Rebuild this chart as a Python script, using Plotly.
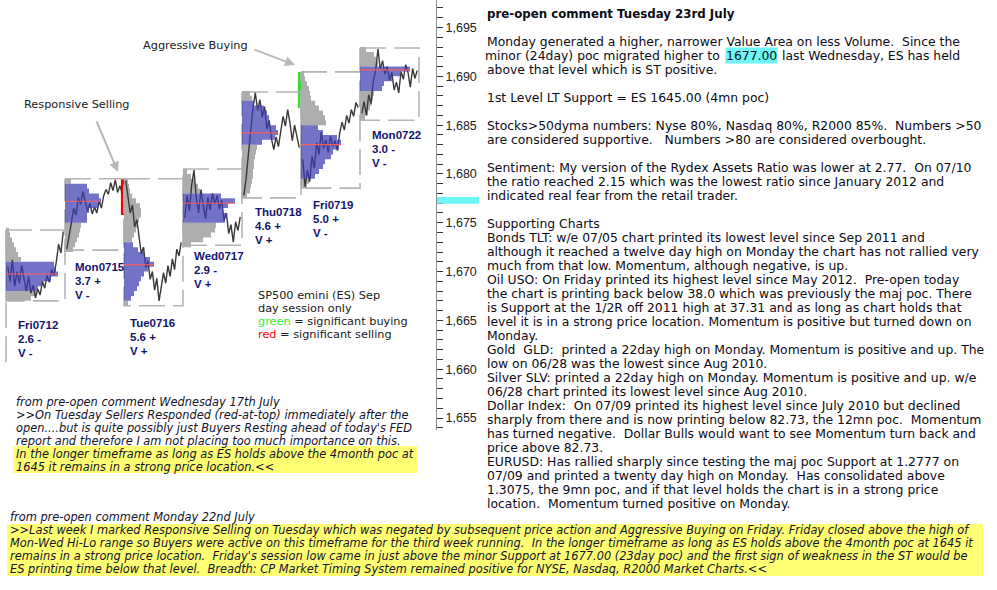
import numpy as np
import plotly.graph_objects as go

# ---------------- DATA ----------------
days = ["Fri0712", "Mon0715", "Tue0716", "Wed0717", "Thu0718", "Fri0719", "Mon0722"]
range_ext = ["2.6 -", "3.7 +", "5.6 +", "2.9 -", "4.6 +", "5.0 +", "3.0 -"]
volume_sign = ["V -", "V -", "V +", "V +", "V +", "V -", "V -"]
day_high = [1674.25, 1679.5, 1679.5, 1680.5, 1688.4, 1690.45, 1692.9]
day_low = [1667.0, 1672.2, 1666.5, 1672.7, 1677.55, 1678.55, 1685.5]
va_low = [1668.0, 1675.0, 1667.0, 1675.0, 1683.0, 1679.5, 1688.5]
va_high = [1671.0, 1679.0, 1673.0, 1678.0, 1687.5, 1685.0, 1691.0]
poc = [1669.75, 1677.2, 1670.7, 1677.0, 1684.2, 1683.0, 1690.65]
prev_session_low, prev_session_high = 1660.7, 1674.25

# market profile (half-point bins from prof_start upward), width in px-of-session units
prof_start = [1667.0, 1672.0, 1666.5, 1672.5, 1677.5, 1678.5, 1685.5]
prof_fri0712 = [25, 30, 32, 36, 45, 52, 50, 48, 15, 12, 10, 8, 6, 4, 3]
prof_mon0715 = [8, 10, 12, 14, 15, 16, 22, 22, 24, 33, 36, 34, 24, 22, 6]
prof_tue0716 = [4, 7, 10, 13, 15, 17, 20, 24, 30, 26, 20, 14, 9, 8, 10, 12, 13, 15, 17, 17, 16, 12, 8, 6, 5, 4]
prof_wed0717 = [8, 20, 28, 32, 33, 42, 44, 40, 45, 52, 38, 17, 15, 12, 8, 4]
prof_thu0718 = [5, 8, 9, 10, 11, 11, 12, 12, 13, 14, 15, 20, 33, 36, 34, 28, 27, 25, 22, 12, 10, 8]
prof_fri0719 = [6, 8, 14, 18, 22, 24, 30, 32, 38, 40, 36, 22, 17, 25, 24, 22, 18, 14, 10, 9, 8, 6, 4, 3]
prof_mon0722 = [5, 8, 10, 12, 13, 14, 22, 24, 32, 40, 50, 18, 16, 14, 6]
profiles = [prof_fri0712, prof_mon0715, prof_tue0716, prof_wed0717, prof_thu0718, prof_fri0719, prof_mon0722]

# intraday price paths
px_fri0712 = [1670.5, 1669.0, 1671.2, 1668.5, 1670.0, 1668.8, 1670.6, 1669.2, 1668.0, 1669.5, 1667.8, 1668.6, 1667.3,
              1668.2, 1667.6, 1669.0, 1668.3, 1669.6, 1668.9, 1670.2, 1669.6, 1671.0, 1672.8, 1671.9, 1674.1]
px_mon0715 = [1672.3, 1673.5, 1675.0, 1676.5, 1675.8, 1677.6, 1676.9, 1678.2, 1677.3, 1676.2, 1677.0, 1675.9, 1676.6,
              1676.0, 1677.2, 1676.5, 1677.8, 1678.4, 1677.9, 1679.1, 1678.3, 1679.4, 1678.1, 1678.8, 1678.0]
px_tue0716 = [1679.3, 1677.5, 1676.0, 1676.8, 1674.6, 1675.3, 1673.2, 1671.8, 1672.5, 1670.4, 1671.1, 1669.2, 1670.0,
              1668.1, 1669.3, 1667.0, 1668.4, 1669.9, 1668.8, 1670.6, 1669.5, 1671.3, 1670.2, 1672.3, 1671.6, 1673.0]
px_wed0717 = [1675.5, 1677.8, 1676.2, 1678.9, 1680.4, 1677.5, 1676.0, 1678.4, 1676.8, 1675.4, 1677.6, 1676.3, 1678.0,
              1676.9, 1677.8, 1676.4, 1677.3, 1675.2, 1676.0, 1673.9, 1674.8, 1673.0, 1675.1, 1674.2, 1675.6]
px_thu0718 = [1677.8, 1679.5, 1682.0, 1684.5, 1686.8, 1688.3, 1686.5, 1687.6, 1685.8, 1686.9, 1684.6, 1685.5, 1683.6,
              1682.5, 1683.8, 1682.8, 1684.6, 1685.9, 1684.9, 1686.6, 1685.2, 1683.4, 1685.0, 1684.0, 1682.7]
px_fri0719 = [1681.5, 1678.7, 1680.4, 1679.2, 1681.8, 1680.6, 1683.2, 1682.0, 1684.3, 1682.6, 1683.5, 1682.2, 1683.9,
              1682.8, 1683.4, 1682.4, 1684.2, 1685.3, 1684.5, 1686.0, 1685.2, 1686.6, 1685.9, 1687.3, 1686.8]
px_mon0722 = [1686.2, 1687.4, 1686.0, 1688.1, 1687.2, 1689.5, 1690.6, 1692.8, 1690.7, 1691.6, 1690.2, 1691.0, 1689.6,
              1690.4, 1688.6, 1689.4, 1688.3, 1690.5, 1689.7, 1691.2, 1690.4, 1688.9, 1690.8, 1689.8, 1690.6]
price_paths = [px_fri0712, px_mon0715, px_tue0716, px_wed0717, px_thu0718, px_fri0719, px_mon0722]

# significant activity markers
sig_day = [2, 5]
sig_low = [1675.8, 1686.75]
sig_high = [1679.5, 1690.45]
sig_color = ["#ff0000", "#33dd33"]

minor_poc_level = 1677.0

# ---------------- LAYOUT CONSTANTS ----------------
FIG_W, FIG_H = 997, 590
PLOT_W, PLOT_H = 436, 430
PX_PER_PT = 9.7625
REF_PRICE, REF_PX = 1695.0, 27.5
DAY_PX = 59.0
DAY0_PX = 6.0
BIN = 0.5
y_top = REF_PRICE + REF_PX / PX_PER_PT
y_bot = REF_PRICE - (PLOT_H - REF_PX) / PX_PER_PT
x_left = -DAY0_PX / DAY_PX
x_right = (PLOT_W - DAY0_PX) / DAY_PX

GRAY = "#adadad"
BLUE = "rgba(60,60,178,0.72)"
NAVY = "#14146e"
TXT = "#0c0c16"


def px_x(p):
    return p / FIG_W


def px_y(p):
    return 1 - p / FIG_H


def esc(s):
    s = s.replace("&", "&amp;").replace("<", "&lt;").replace(">", "&gt;")
    return s.replace("  ", " \u00a0")


def step_polys(base, levels, widths, flags, want):
    """Closed step outlines for contiguous runs of bins whose flag == want (None-separated)."""
    xs, ys = [], []
    run = []
    for lv, w, f in list(zip(levels, widths, flags)) + [(None, None, not want)]:
        if f == want and lv is not None:
            run.append((lv, w))
            continue
        if run:
            px_, py_ = [base], [run[0][0]]
            for l, ww in run:
                px_ += [base + ww / DAY_PX, base + ww / DAY_PX]
                py_ += [l, l + BIN]
            px_ += [base, base]
            py_ += [run[-1][0] + BIN, run[0][0]]
            if xs:
                xs.append(None)
                ys.append(None)
            xs += px_
            ys += py_
            run = []
    return xs, ys


fig = go.Figure()

# session boxes
fig.add_trace(go.Scatter(x=[0, 0], y=[prev_session_low, prev_session_high], mode="lines",
                         line=dict(color="#b4b4b4", width=1.6, dash="26px,8px"),
                         hoverinfo="skip", showlegend=False))
for i in range(len(days)):
    fig.add_trace(go.Scatter(
        x=[i, i + 1, i + 1, i, i],
        y=[day_high[i], day_high[i], day_low[i], day_low[i], day_high[i]],
        mode="lines", line=dict(color="#b4b4b4", width=1.6, dash="26px,8px"),
        hoverinfo="skip", showlegend=False))

# profile outside value area (gray)
va_polys = []
for i in range(len(days)):
    levels = [prof_start[i] + BIN * k for k in range(len(profiles[i]))]
    inside = [(lv >= va_low[i] - 1e-9) and (lv + BIN <= va_high[i] + 1e-9) for lv in levels]
    gx, gy = step_polys(i, levels, profiles[i], inside, False)
    va_polys.append(step_polys(i, levels, profiles[i], inside, True))
    fig.add_trace(go.Scatter(x=gx, y=gy, mode="lines", fill="toself", fillcolor=GRAY,
                             line=dict(width=0, color=GRAY), hoverinfo="skip", showlegend=False))

# price paths
for i, path in enumerate(price_paths):
    xs = i + np.linspace(0.03, 0.97, len(path))
    fig.add_trace(go.Scatter(x=xs, y=path, mode="lines",
                             line=dict(color="#383838", width=1.4),
                             hoverinfo="skip", showlegend=False))

# value area (blue) on top
for i, (bx, by) in enumerate(va_polys):
    fig.add_trace(go.Scatter(x=bx, y=by, mode="lines", fill="toself", fillcolor=BLUE,
                             line=dict(width=0, color=BLUE), hoverinfo="skip", showlegend=False))

# POC lines
for i in range(len(days)):
    fig.add_trace(go.Scatter(x=[i, i + max(profiles[i]) / DAY_PX], y=[poc[i], poc[i]], mode="lines",
                             line=dict(color="#ff5a5a", width=1.2),
                             hoverinfo="skip", showlegend=False))

# significant buying / selling bars
for d, lo, hi, c in zip(sig_day, sig_low, sig_high, sig_color):
    fig.add_trace(go.Bar(x=[d - 0.01], y=[hi - lo], base=[lo], width=0.085,
                         marker=dict(color=c, line=dict(width=0)),
                         hoverinfo="skip", showlegend=False))

annotations = []


def add_text(px, py, txt, size, family="DejaVu Sans", color=TXT, xanchor="left", bg=None):
    a = dict(xref="paper", yref="paper", x=px_x(px), y=px_y(py), text=txt, showarrow=False,
             xanchor=xanchor, yanchor="middle", align="left", borderpad=0,
             font=dict(family=family, size=size, color=color))
    if bg:
        a["bgcolor"] = bg
    annotations.append(a)


# day labels
label_dx = [11, 9, 5, 10, 12, 11, 11]
label_dy = [24, 17, 17, 11, 14, 17, 15]
for i in range(len(days)):
    for k, t in enumerate([days[i], range_ext[i], volume_sign[i]]):
        annotations.append(dict(
            xref="x", yref="y", x=i + label_dx[i] / DAY_PX, y=day_low[i], text="<b>" + t + "</b>",
            showarrow=False, xanchor="left", yanchor="middle", borderpad=0,
            yshift=-(label_dy[i] + 14 * k),
            font=dict(family="Liberation Sans, Arial", size=11.5, color=NAVY)))

# chart notes
add_text(142, 45, "Aggressive Buying", 11.3, color="#202020")
add_text(23, 104, "Responsive Selling", 11.3, color="#202020")
annotations.append(dict(xref="paper", yref="paper", x=px_x(118), y=px_y(172), ax=-22, ay=-52,
                        text="", showarrow=True, arrowhead=2, arrowsize=1, arrowwidth=2,
                        arrowcolor="#b8b8b8"))
annotations.append(dict(xref="paper", yref="paper", x=px_x(295), y=px_y(65), ax=-42, ay=-16,
                        text="", showarrow=True, arrowhead=2, arrowsize=1, arrowwidth=2,
                        arrowcolor="#b8b8b8"))
legend_lines = ["SP500 emini (ES) Sep", "day session only",
                "<span style='color:#33ee33'>green</span> = significant buying",
                "<span style='color:#ff0000'>red</span> = significant selling"]
for k, t in enumerate(legend_lines):
    add_text(257, 295 + 13 * k, t, 11.3, color="#202020")

# left italic comment
left_lines = ["from pre-open comment Wednesday 17th July",
              ">>On Tuesday Sellers Responded (red-at-top) immediately after the",
              "open....but is quite possibly just Buyers Resting ahead of today's FED",
              "report and therefore I am not placing too much importance on this.",
              "In the longer timeframe as long as ES holds above the 4month poc at",
              "1645 it remains in a strong price location.<<"]
for k, t in enumerate(left_lines):
    add_text(15, 401.5 + 13 * k, "<i>" + esc(t) + "</i>", 11.4, color="#14142a")

# bottom italic comment
bottom_lines = ["from pre-open comment Monday 22nd July",
                ">>Last week I marked Responsive Selling on Tuesday which was negated by subsequent price action and Aggressive Buying on Friday. Friday closed above the high of",
                "Mon-Wed Hi-Lo range so Buyers were active on this timeframe for the third week running.  In the longer timeframe as long as ES holds above the 4month poc at 1645 it",
                "remains in a strong price location.  Friday's session low came in just above the minor Support at 1677.00 (23day poc) and the first sign of weakness in the ST would be",
                "ES printing time below that level.  Breadth: CP Market Timing System remained positive for NYSE, Nasdaq, R2000 Market Charts.<<"]
for k, t in enumerate(bottom_lines):
    add_text(9, 517.3 + 12.85 * k, "<i>" + esc(t) + "</i>", 11.4, color="#14142a")

# right commentary
add_text(486, 14, "<b>pre-open comment Tuesday 23rd July</b>", 11.8)
right_lines = ["Monday generated a higher, narrower Value Area on less Volume.  Since the",
               None,
               "above that level which is ST positive.",
               "",
               "1st Level LT Support = ES 1645.00 (4mn poc)",
               "",
               "Stocks>50dyma numbers: Nyse 80%, Nasdaq 80%, R2000 85%.  Numbers >50",
               "are considered supportive.   Numbers >80 are considered overbought.",
               "",
               "Sentiment: My version of the Rydex Assets Ratio was lower at 2.77.  On 07/10",
               "the ratio reached 2.15 which was the lowest ratio since January 2012 and",
               "indicated real fear from the retail trader.",
               "",
               "Supporting Charts",
               "Bonds TLT: w/e 07/05 chart printed its lowest level since Sep 2011 and",
               "although it reached a twelve day high on Monday the chart has not rallied very",
               "much from that low. Momentum, although negative, is up.",
               "Oil USO: On Friday printed its highest level since May 2012.  Pre-open today",
               "the chart is printing back below 38.0 which was previously the maj poc. There",
               "is Support at the 1/2R off 2011 high at 37.31 and as long as chart holds that",
               "level it is in a strong price location. Momentum is positive but turned down on",
               "Monday.",
               "Gold  GLD:  printed a 22day high on Monday. Momentum is positive and up. The",
               "low on 06/28 was the lowest since Aug 2010.",
               "Silver SLV: printed a 22day high on Monday. Momentum is positive and up. w/e",
               "06/28 chart printed its lowest level since Aug 2010.",
               "Dollar Index:  On 07/09 printed its highest level since July 2010 but declined",
               "sharply from there and is now printing below 82.73, the 12mn poc.  Momentum",
               "has turned negative.  Dollar Bulls would want to see Momentum turn back and",
               "price above 82.73.",
               "EURUSD: Has rallied sharply since testing the maj poc Support at 1.2777 on",
               "07/09 and printed a twenty day high on Monday.  Has consolidated above",
               "1.3075, the 9mn poc, and if that level holds the chart is in a strong price",
               "location.  Momentum turned positive on Monday."]
for k, t in enumerate(right_lines):
    yy = 41.7 + 14 * k
    if t is None:
        add_text(725, yy, esc("minor (24day) poc migrated higher to "), 12.4, xanchor="right")
        add_text(725, yy, "1677.00", 12.4, bg="#6ef6f6")
        add_text(777, yy, esc(" last Wednesday, ES has held"), 12.4)
    elif t:
        add_text(486, yy, esc(t), 12.4)

shapes = [
    dict(type="rect", xref="paper", yref="y", x0=px_x(437), x1=px_x(479),
         y0=minor_poc_level - 0.05, y1=minor_poc_level + 0.65, fillcolor="#6ef6f6",
         line=dict(width=0), layer="above"),
    dict(type="rect", xref="paper", yref="paper", x0=px_x(13), x1=px_x(417),
         y0=px_y(473), y1=px_y(446), fillcolor="#ffff73", line=dict(width=0), layer="below"),
    dict(type="rect", xref="paper", yref="paper", x0=px_x(7), x1=px_x(983),
         y0=px_y(576), y1=px_y(524), fillcolor="#ffff73", line=dict(width=0), layer="below"),
]

fig.update_layout(
    width=FIG_W, height=FIG_H, margin=dict(l=0, r=0, t=0, b=0),
    paper_bgcolor="white", plot_bgcolor="white", barmode="overlay", showlegend=False,
    xaxis=dict(range=[x_left, x_right], domain=[0, PLOT_W / FIG_W], visible=False, fixedrange=True),
    yaxis=dict(range=[y_bot, y_top], domain=[1 - PLOT_H / FIG_H, 1], side="right", anchor="x",
               showline=True, linecolor="#8c8c8c", linewidth=1, ticks="outside", ticklen=6,
               tickcolor="#333333", tickwidth=1, tick0=1655, dtick=5, tickformat=",d",
               tickfont=dict(family="Liberation Sans, Arial", size=12.5, color="#222222"),
               minor=dict(dtick=1, ticks="outside", ticklen=6, tickcolor="#333333", showgrid=False),
               showgrid=False, zeroline=False, fixedrange=True),
    annotations=annotations, shapes=shapes,
)

fig.write_html("out.html")
